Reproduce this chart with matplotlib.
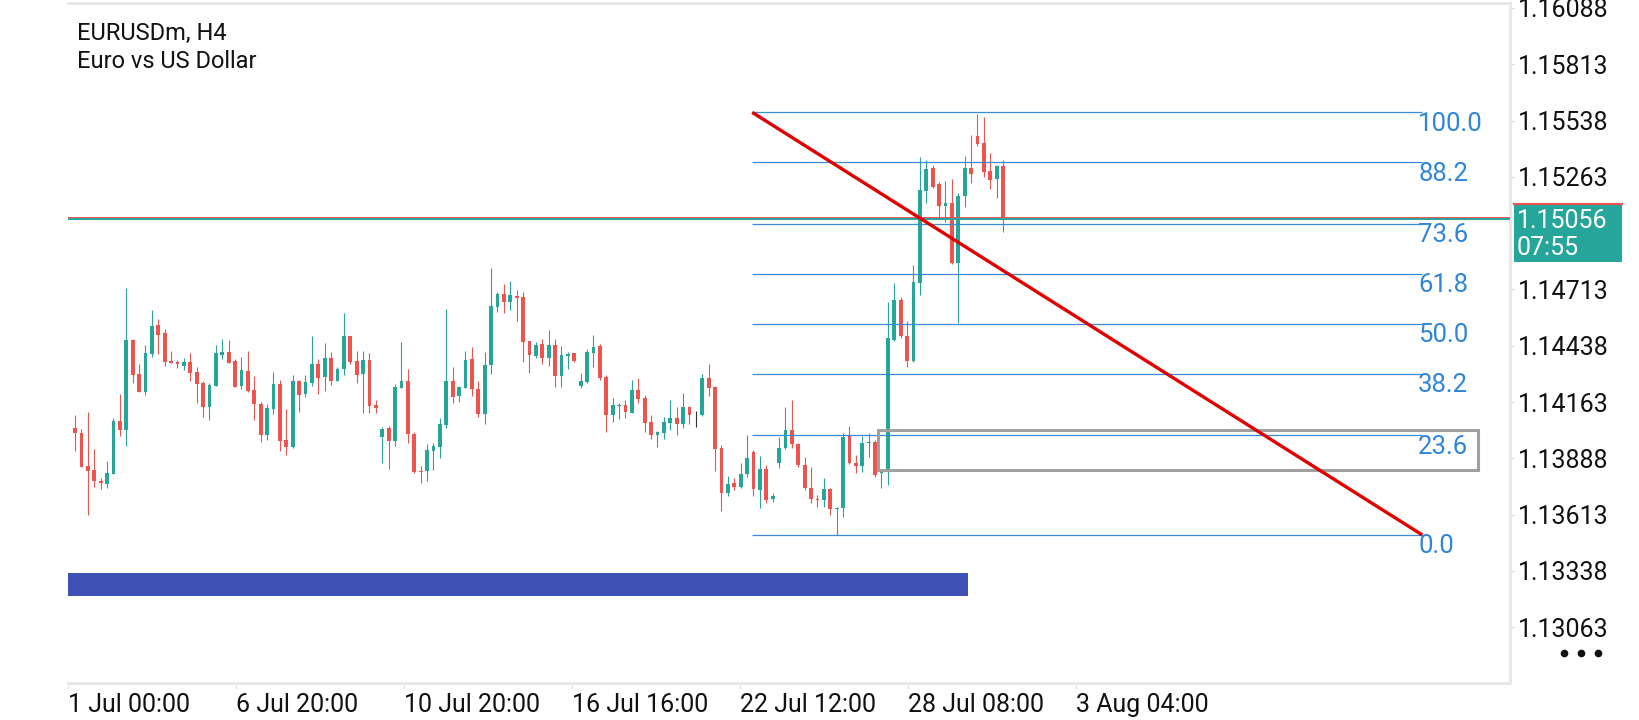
import numpy as np
import matplotlib.pyplot as plt
from matplotlib.patches import Rectangle
import matplotlib.transforms as mtransforms

plt.rcParams['font.family'] = ['Roboto', 'DejaVu Sans']

# H4 candles
opens = [1.14035, 1.14010, 1.13851, 1.13831, 1.13779, 1.13763, 1.13813, 1.14071, 1.14027, 1.14466,
         1.14300, 1.14214, 1.14398, 1.14540, 1.14502, 1.14364, 1.14359, 1.14339, 1.14359, 1.14310,
         1.14255, 1.14141, 1.14243, 1.14395, 1.14408, 1.14364, 1.14242, 1.14315, 1.14222, 1.14154,
         1.14004, 1.14131, 1.14251, 1.13978, 1.13945, 1.14266, 1.14203, 1.14258, 1.14349, 1.14287,
         1.14378, 1.14268, 1.14323, 1.14486, 1.14365, 1.14300, 1.14369, 1.14149, 1.13991, 1.14037,
         1.13975, 1.14234, 1.14266, 1.14007, 1.13827, 1.13828, 1.13926, 1.13946, 1.14053, 1.14266,
         1.14195, 1.14234, 1.14374, 1.14225, 1.14107, 1.14343, 1.14626, 1.14691, 1.14654, 1.14680,
         1.14677, 1.14460, 1.14390, 1.14447, 1.14380, 1.14442, 1.14292, 1.14390, 1.14403, 1.14243,
         1.14261, 1.14405, 1.14437, 1.14287, 1.14102, 1.14146, 1.14149, 1.14111, 1.14222, 1.14183,
         1.14066, 1.14004, 1.14014, 1.14063, 1.14085, 1.14058, 1.14140, 1.14103, 1.14102, 1.14281,
         1.14239, 1.13937, 1.13717, 1.13766, 1.13750, 1.13810, 1.13921, 1.13733, 1.13837, 1.13690,
         1.13867, 1.13937, 1.14027, 1.13957, 1.13858, 1.13745, 1.13691, 1.13685, 1.13739, 1.13641,
         1.13644, 1.13997, 1.13864, 1.13853, 1.13962, 1.13970, 1.13815, 1.13820, 1.14466, 1.14662,
         1.14487, 1.14365, 1.14746, 1.15196, 1.15308, 1.15227, 1.15122, 1.15137, 1.14844, 1.15170,
         1.15308, 1.15463, 1.15427, 1.15292, 1.15253, 1.15318]
highs = [1.14100, 1.14030, 1.14113, 1.13932, 1.13791, 1.13875, 1.14084, 1.14201, 1.14719, 1.14470,
         1.14349, 1.14442, 1.14613, 1.14569, 1.14518, 1.14413, 1.14369, 1.14377, 1.14401, 1.14333,
         1.14266, 1.14258, 1.14442, 1.14470, 1.14466, 1.14372, 1.14385, 1.14413, 1.14290, 1.14165,
         1.14154, 1.14308, 1.14271, 1.14129, 1.14294, 1.14271, 1.14295, 1.14486, 1.14374, 1.14452,
         1.14408, 1.14333, 1.14598, 1.14488, 1.14413, 1.14414, 1.14401, 1.14175, 1.14043, 1.14046,
         1.14252, 1.14454, 1.14325, 1.14016, 1.13851, 1.13959, 1.13965, 1.14084, 1.14616, 1.14333,
         1.14242, 1.14411, 1.14431, 1.14266, 1.14408, 1.14817, 1.14699, 1.14738, 1.14755, 1.14709,
         1.14699, 1.14462, 1.14455, 1.14471, 1.14515, 1.14470, 1.14436, 1.14408, 1.14405, 1.14304,
         1.14421, 1.14491, 1.14447, 1.14294, 1.14182, 1.14160, 1.14173, 1.14271, 1.14281, 1.14198,
         1.14100, 1.14022, 1.14089, 1.14173, 1.14140, 1.14206, 1.14142, 1.14120, 1.14300, 1.14349,
         1.14243, 1.13953, 1.13802, 1.13791, 1.13864, 1.14002, 1.13929, 1.13900, 1.13856, 1.13717,
         1.13991, 1.14141, 1.14173, 1.13962, 1.13893, 1.13844, 1.13709, 1.13791, 1.13745, 1.13652,
         1.14010, 1.14046, 1.13905, 1.13997, 1.14010, 1.13978, 1.13828, 1.14654, 1.14743, 1.14675,
         1.14559, 1.14833, 1.15362, 1.15346, 1.15321, 1.15240, 1.15243, 1.15253, 1.15183, 1.15365,
         1.15468, 1.15570, 1.15557, 1.15378, 1.15321, 1.15346]
lows = [1.13926, 1.13844, 1.13612, 1.13750, 1.13737, 1.13745, 1.13812, 1.13999, 1.13950, 1.14258,
        1.14210, 1.14198, 1.14385, 1.14398, 1.14339, 1.14352, 1.14331, 1.14320, 1.14268, 1.14160,
        1.14092, 1.14076, 1.14242, 1.14372, 1.14354, 1.14236, 1.14225, 1.14214, 1.14076, 1.13970,
        1.13978, 1.14105, 1.13926, 1.13905, 1.13940, 1.14116, 1.14190, 1.14242, 1.14203, 1.14217,
        1.14247, 1.14266, 1.14295, 1.14349, 1.14258, 1.14111, 1.14111, 1.14111, 1.13867, 1.13836,
        1.13950, 1.14232, 1.13962, 1.13815, 1.13766, 1.13776, 1.13831, 1.13892, 1.14035, 1.14157,
        1.14165, 1.14232, 1.14195, 1.14092, 1.14058, 1.14299, 1.14605, 1.14597, 1.14613, 1.14561,
        1.14361, 1.14307, 1.14379, 1.14349, 1.14341, 1.14239, 1.14239, 1.14325, 1.14357, 1.14234,
        1.14258, 1.14336, 1.14271, 1.14019, 1.14068, 1.14079, 1.14084, 1.14109, 1.14160, 1.14019,
        1.13981, 1.13946, 1.13981, 1.14027, 1.14001, 1.14035, 1.14056, 1.14043, 1.14097, 1.14195,
        1.13828, 1.13633, 1.13704, 1.13734, 1.13742, 1.13799, 1.13704, 1.13644, 1.13668, 1.13677,
        1.13839, 1.13932, 1.13937, 1.13848, 1.13734, 1.13672, 1.13652, 1.13652, 1.13612, 1.13514,
        1.13603, 1.13861, 1.13815, 1.13823, 1.13896, 1.13799, 1.13742, 1.13758, 1.14463, 1.14474,
        1.14336, 1.14360, 1.14686, 1.15134, 1.15210, 1.15069, 1.15044, 1.14837, 1.14551, 1.15118,
        1.15235, 1.15416, 1.15264, 1.15204, 1.15162, 1.14995]
closes = [1.14014, 1.13848, 1.13828, 1.13779, 1.13766, 1.13815, 1.14071, 1.14027, 1.14466, 1.14295,
          1.14214, 1.14401, 1.14535, 1.14491, 1.14361, 1.14356, 1.14351, 1.14359, 1.14307, 1.14251,
          1.14141, 1.14247, 1.14401, 1.14408, 1.14356, 1.14238, 1.14320, 1.14219, 1.14154, 1.14004,
          1.14134, 1.14251, 1.13975, 1.13942, 1.14266, 1.14199, 1.14261, 1.14349, 1.14282, 1.14378,
          1.14268, 1.14326, 1.14486, 1.14361, 1.14297, 1.14369, 1.14146, 1.14136, 1.14032, 1.13975,
          1.14239, 1.14266, 1.14006, 1.13823, 1.13823, 1.13929, 1.13949, 1.14056, 1.14266, 1.14190,
          1.14237, 1.14369, 1.14225, 1.14107, 1.14343, 1.14633, 1.14691, 1.14652, 1.14686, 1.14673,
          1.14458, 1.14395, 1.14442, 1.14380, 1.14442, 1.14292, 1.14393, 1.14398, 1.14366, 1.14266,
          1.14408, 1.14431, 1.14282, 1.14102, 1.14149, 1.14151, 1.14115, 1.14222, 1.14180, 1.14063,
          1.14004, 1.14017, 1.14066, 1.14087, 1.14058, 1.14140, 1.14102, 1.14103, 1.14281, 1.14234,
          1.13934, 1.13717, 1.13763, 1.13750, 1.13812, 1.13888, 1.13737, 1.13835, 1.13685, 1.13704,
          1.13937, 1.14027, 1.13957, 1.13856, 1.13742, 1.13688, 1.13685, 1.13739, 1.13639, 1.13646,
          1.13994, 1.13864, 1.13853, 1.13965, 1.13968, 1.13807, 1.13823, 1.14476, 1.14662, 1.14487,
          1.14365, 1.14751, 1.15199, 1.15302, 1.15215, 1.15122, 1.15137, 1.14841, 1.15170, 1.15308,
          1.15279, 1.15425, 1.15289, 1.15249, 1.15318, 1.15056]

date_ticks = [-1.1, 25.15, 51.4, 77.65, 103.9, 130.15, 156.4]
date_labels = ["1 Jul 00:00", "6 Jul 20:00", "10 Jul 20:00", "16 Jul 16:00",
               "22 Jul 12:00", "28 Jul 08:00", "3 Aug 04:00"]
price_ticks = [1.16088, 1.15813, 1.15538, 1.15263, 1.14713, 1.14438,
               1.14163, 1.13888, 1.13613, 1.13338, 1.13063]

fib_levels = [0.0, 23.6, 38.2, 50.0, 61.8, 73.6, 88.2, 100.0]
fib_low = 1.13514
fib_high = 1.15578
fib_start, fib_end = 105.8, 210.5

bid = 1.15056
ask = 1.15064
timer = "07:55"

zone_x = [125.5, 219.2]
zone_y = [1.13831, 1.14027]
band_x = [-1.1, 139.5]
band_y = [1.13216, 1.13328]

UP = '#26a69a'
DOWN = '#ef5350'
FIB = '#3a8bd1'

fig = plt.figure(figsize=(16.4, 7.2), dpi=100)
ax = fig.add_axes([68/1640, 1-683/720, (1510-68)/1640, 680/720])
ax.set_xlim(-1.1, 224.2)
ax.set_ylim(1.12791, 1.16112)

o = np.array(opens)
h = np.array(highs)
l = np.array(lows)
c = np.array(closes)
x = np.arange(len(o))
cols = np.where(c > o, UP, np.where(c < o, DOWN, '#333333'))

ax.vlines(x, l, h, colors=cols, lw=0.8, zorder=2)
ax.bar(x, np.maximum(np.abs(c - o), 0.00003), bottom=np.minimum(o, c),
       width=0.6, color=cols, linewidth=0, zorder=3)

# blue band and gray zone
ax.add_patch(Rectangle((band_x[0], band_y[0]), band_x[1]-band_x[0], band_y[1]-band_y[0],
                       fc='#3f51b5', ec='none', zorder=2))
ax.add_patch(Rectangle((zone_x[0], zone_y[0]), zone_x[1]-zone_x[0], zone_y[1]-zone_y[0],
                       fill=False, ec='#a0a0a0', lw=2.2, zorder=5))

# fibonacci
for lvl in fib_levels:
    p = fib_low + (fib_high - fib_low) * lvl / 100
    ax.hlines(p, fib_start, fib_end, color=FIB, lw=0.9, zorder=4)
    ax.annotate(f"{lvl:.1f}", (fib_end, p), xytext=(-3, 0.5), textcoords='offset points',
                ha='left', va='top', fontsize=18.5, color='#2f86d6', zorder=6)

ax.plot([fib_start, fib_end], [fib_high, fib_low], color='#e00000', lw=2.4,
        solid_capstyle='butt', zorder=7)

# price lines
ax.axhline(ask, color=DOWN, lw=1.4, zorder=5)
ax.axhline(bid, color=UP, lw=1.4, zorder=5)

# price box on the axis
trans = mtransforms.blended_transform_factory(ax.transAxes, ax.transData)
ax.add_patch(Rectangle((1.0028, 1.14848), 0.0749, 0.00283, transform=trans,
                       fc=UP, ec='none', clip_on=False, zorder=8))
ax.plot([1.0028, 1.0777], [1.15131, 1.15131], transform=trans, color=DOWN,
        lw=1.5, clip_on=False, zorder=9)
ax.text(1.0049, 1.15045, f"{bid:.5f}", transform=trans, color='white',
        va='center', ha='left', fontsize=18, zorder=10)
ax.text(1.0049, 1.14914, timer, transform=trans, color='white',
        va='center', ha='left', fontsize=18, zorder=10)

# axes styling
for s in ['top', 'right', 'bottom']:
    ax.spines[s].set_color('#e6e6e6')
    ax.spines[s].set_linewidth(2)
ax.spines['left'].set_visible(False)

ax.yaxis.tick_right()
ax.set_yticks(price_ticks)
ax.set_yticklabels([f"{p:.5f}" for p in price_ticks])
ax.tick_params(axis='y', length=3, width=1, color='#dddddd', pad=3,
               labelsize=18, labelcolor='#111111')
ax.set_xticks(date_ticks)
ax.set_xticklabels(date_labels, ha='left')
ax.tick_params(axis='x', length=4, width=1, color='#e6e6e6', pad=3,
               labelsize=18, labelcolor='#111111')

fig.text(77/1640, 1-33/720, "EURUSDm, H4", va='center', ha='left', fontsize=17, color='#111111')
fig.text(77/1640, 1-62/720, "Euro vs US Dollar", va='center', ha='left', fontsize=17, color='#111111')

fig.lines.append(plt.Line2D([1564/1640, 1581/1640, 1598/1640], [1-653/720]*3,
                            transform=fig.transFigure, ls='none', marker='o',
                            ms=4.5, color='#111111'))

fig.savefig('out.png', dpi=100)
